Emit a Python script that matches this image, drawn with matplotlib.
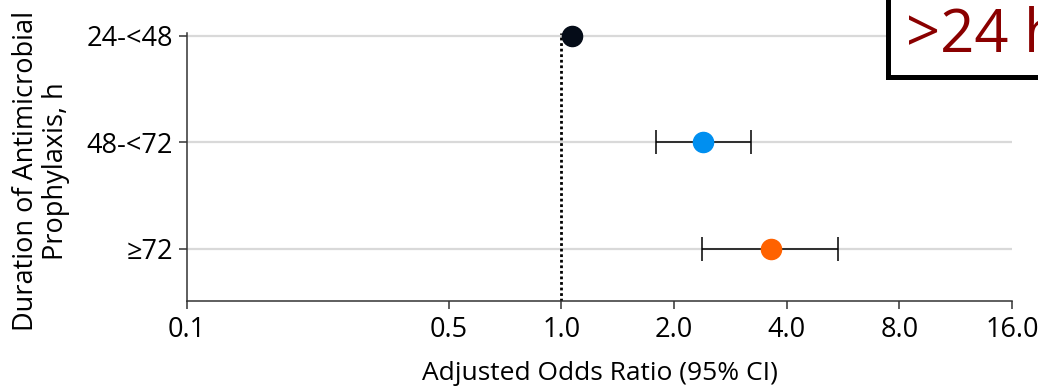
import matplotlib
matplotlib.use('Agg')
import matplotlib.pyplot as plt
from matplotlib.patches import Rectangle
from matplotlib.ticker import FixedLocator, NullLocator

# forest plot data
groups = ['24-<48', '48-<72', '\u226572']
odds = [1.07, 2.39, 3.63]
ci_low = [None, 1.79, 2.38]
ci_high = [None, 3.22, 5.49]
colors = ['#050c18', '#008ff0', '#ff6200']
xticks = [0.1, 0.5, 1.0, 2.0, 4.0, 8.0, 16.0]
xticklabels = ['0.1', '0.5', '1.0', '2.0', '4.0', '8.0', '16.0']

plt.rcParams['font.family'] = ['Open Sans', 'DejaVu Sans']

W, H = 1038, 386
fig = plt.figure(figsize=(W / 100, H / 100), dpi=100)
ax = fig.add_axes([187 / W, 1 - 301 / H, (1012 - 187) / W, (301 - 33) / H])

ypos = [2, 1, 0]
for y in ypos:
    ax.axhline(y, color='#d9d9d9', lw=1.6, zorder=0)

ax.axvline(1.0, color='black', ls=(0, (1, 1)), lw=2.0, zorder=1)

for i, y in enumerate(ypos):
    if ci_low[i] is not None:
        ax.errorbar([odds[i]], [y], xerr=[[odds[i] - ci_low[i]], [ci_high[i] - odds[i]]],
                    fmt='none', ecolor='black', elinewidth=1.1, capsize=8.3,
                    capthick=1.1, zorder=2)
    ax.plot([odds[i]], [y], 'o', color=colors[i], markersize=14.5, zorder=3,
            clip_on=False)

ax.set_xscale('log')
ax.set_xlim(0.1, 16.0)
ax.set_ylim(-0.4876, 2.025)
ax.xaxis.set_major_locator(FixedLocator(xticks))
ax.xaxis.set_minor_locator(NullLocator())
ax.set_xticklabels(xticklabels)
ax.set_yticks(ypos)
ax.set_yticklabels(groups)

for s in ['top', 'right']:
    ax.spines[s].set_visible(False)
for s in ['left', 'bottom']:
    ax.spines[s].set_color('#333333')
    ax.spines[s].set_linewidth(1.1)
ax.tick_params(axis='x', direction='out', length=6, width=1.1, color='#333333',
               labelsize=19.5, pad=5)
ax.tick_params(axis='y', direction='out', length=6, width=1.1, color='#333333',
               labelsize=19.5, pad=4)

fig.text(599.5 / W, 1 - 380 / H, 'Adjusted Odds Ratio (95% CI)', ha='center',
         va='baseline', fontsize=19)
fig.text(41 / W, 1 - 171 / H, 'Duration of Antimicrobial\nProphylaxis, h',
         rotation=90, ha='center', va='center', multialignment='center',
         fontsize=19.5, linespacing=1.1)

# the ">24 h" box in the top-right corner, cut by the figure edge
box = Rectangle((887.5 / W, 1 - 77 / H), 0.5, 0.5, transform=fig.transFigure,
                facecolor='white', edgecolor='black', lw=3.6, zorder=5,
                clip_on=False)
fig.add_artist(box)
fig.text(906 / W, 1 - 52 / H, '>24 h', color='#8a0000', fontsize=43,
         ha='left', va='baseline', zorder=6)

fig.savefig('out.png', dpi=100)
